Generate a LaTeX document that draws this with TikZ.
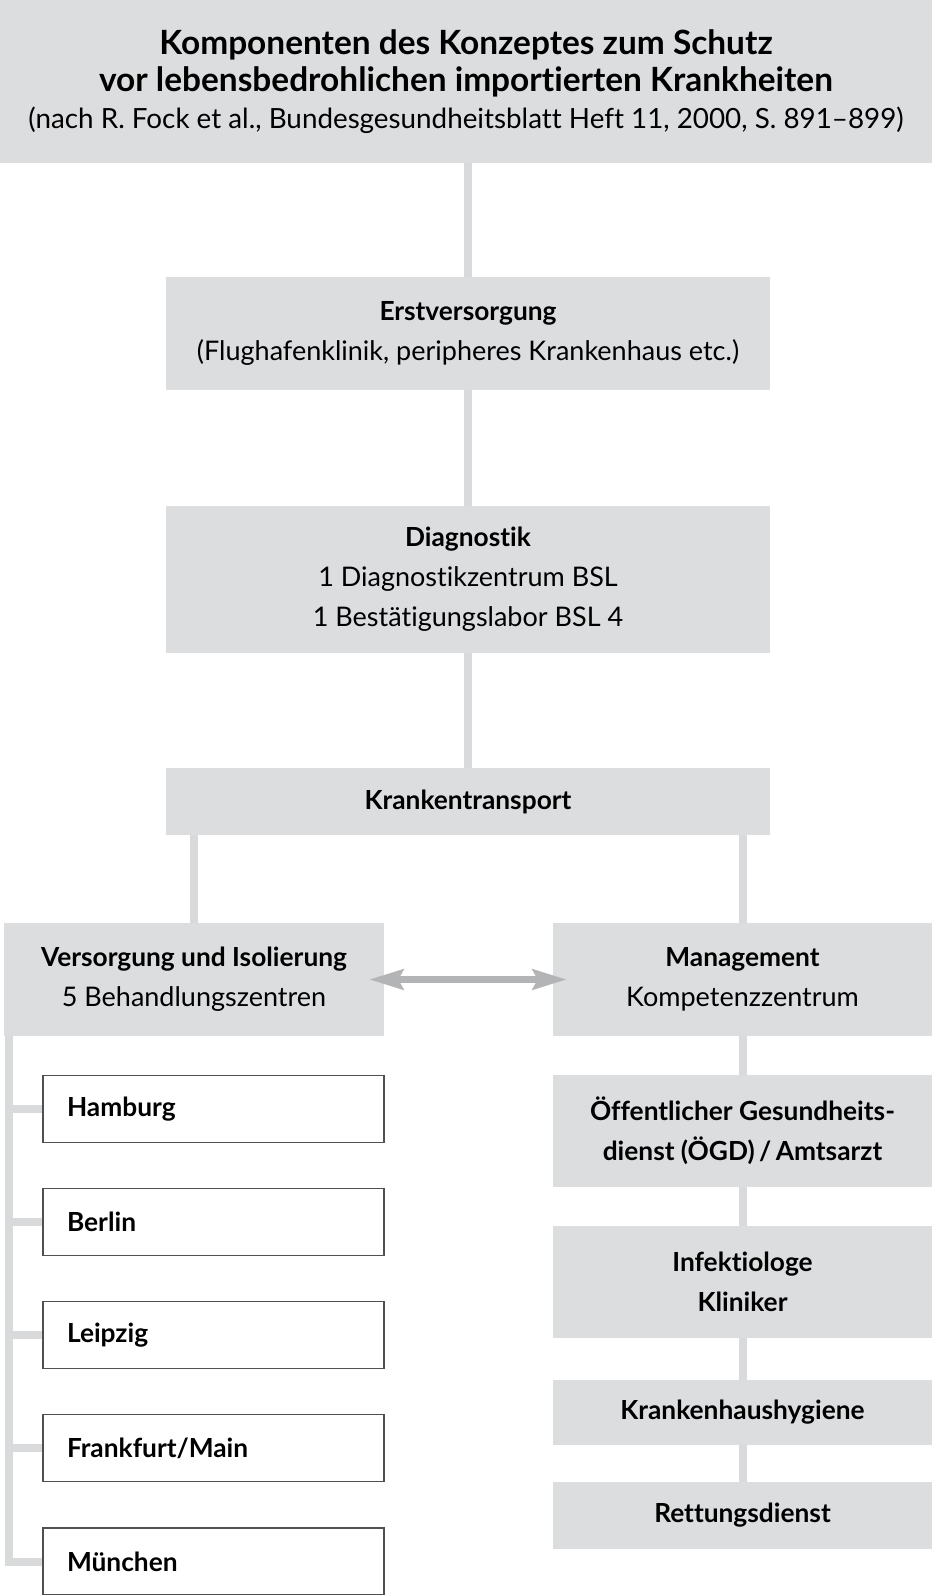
\documentclass[tikz,border=0pt]{standalone}
\usepackage{fontspec}
\setmainfont{Lato}[Ligatures=NoCommon]
\usetikzlibrary{arrows.meta}
\definecolor{boxgray}{HTML}{DCDDDF}
\definecolor{linegray}{HTML}{D9DADC}
\definecolor{arrowgray}{HTML}{B3B4B6}
\definecolor{framegray}{HTML}{505050}
\newcommand{\hd}[1]{{\fontsize{26.3}{40}\selectfont\bfseries #1}}
\tikzset{
  gbox/.style={fill=boxgray, inner sep=0pt, align=center, font=\fontsize{27}{40}\selectfont},
  hbox/.style={gbox, font=\bfseries\fontsize{26.3}{40}\selectfont},
  citybox/.style={draw=framegray, line width=1.4pt, fill=white, minimum height=67pt,
    inner xsep=24pt, text width=293pt, align=left, font=\bfseries\fontsize{26.3}{30}\selectfont},
  link/.style={draw=linegray, line width=8pt},
  biarrow/.style={draw=arrowgray, line width=7pt, {Stealth[length=34pt, width=20pt, inset=5pt]}-{Stealth[length=34pt, width=20pt, inset=5pt]}},
}
\begin{document}
\begin{tikzpicture}[x=1pt, y=-1pt]
\useasboundingbox (0,0) rectangle (932,1595);
% main column
\node[gbox, minimum width=932pt, minimum height=163pt, font=\bfseries\fontsize{33.4}{37}\selectfont] (title) at (466,81.5){Komponenten des Konzeptes zum Schutz\\ vor lebensbedrohlichen importierten Krankheiten\\ \fontsize{27.8}{37}\selectfont\mdseries (nach R. Fock et al., Bundesgesundheitsblatt Heft 11, 2000, S. 891--899)};
\node[gbox, minimum width=604pt, minimum height=113pt] (erst) at (468,333.5){\hd{Erstversorgung}\\ (Flughafenklinik, peripheres Krankenhaus etc.)};
\node[gbox, minimum width=604pt, minimum height=147pt] (diag) at (468,579.5){\hd{Diagnostik}\\ 1 Diagnostikzentrum BSL\\ 1 Bestätigungslabor BSL 4};
\node[hbox, minimum width=604pt, minimum height=67pt] (trans) at (468,801.5){Krankentransport};
\draw[link](title.south -| erst.north) -- (erst.north);
\draw[link](erst) -- (diag);
\draw[link](diag) -- (trans);
% left branch
\node[gbox, minimum width=380pt, minimum height=113pt] (vers) at (194,979.5){\hd{Versorgung und Isolierung}\\ 5 Behandlungszentren};
\node[citybox] (ham) at (213.5,1109){Hamburg};
\node[citybox] (ber) at (213.5,1222){Berlin};
\node[citybox] (lei) at (213.5,1335){Leipzig};
\node[citybox] (ffm) at (213.5,1448){Frankfurt/Main};
\node[citybox] (muc) at (213.5,1561.5){München};
\coordinate (lbot) at (9,1561.5);
\draw[link](trans.south -| vers.north) -- (vers.north);
\draw[link](vers.south -| lbot) -- (lbot) -- (muc.west);
\foreach \c in {ham,ber,lei,ffm}
  \draw[link](\c.west -| lbot) -- (\c.west);
% right branch
\node[gbox, minimum width=379pt, minimum height=113pt] (mgmt) at (742.5,979.5){\hd{Management}\\ Kompetenzzentrum};
\node[hbox, minimum width=379pt, minimum height=112pt] (oegd) at (742.5,1131){Öffentlicher Gesundheits-\\ dienst (ÖGD)\,/\,Amtsarzt};
\node[hbox, minimum width=379pt, minimum height=112pt] (infek) at (742.5,1282){Infektiologe\\ Kliniker};
\node[hbox, minimum width=379pt, minimum height=65pt] (hyg) at (742.5,1412.5){Krankenhaushygiene};
\node[hbox, minimum width=379pt, minimum height=67pt] (rett) at (742.5,1515.5){Rettungsdienst};
\draw[link](trans.south -| mgmt.north) -- (mgmt.north);
\draw[link](mgmt) -- (oegd);
\draw[link](oegd) -- (infek);
\draw[link](infek) -- (hyg);
\draw[link](hyg) -- (rett);
\draw[biarrow, shorten <=-15pt, shorten >=-14pt](vers.east) -- (mgmt.west);
\end{tikzpicture}
\end{document}
